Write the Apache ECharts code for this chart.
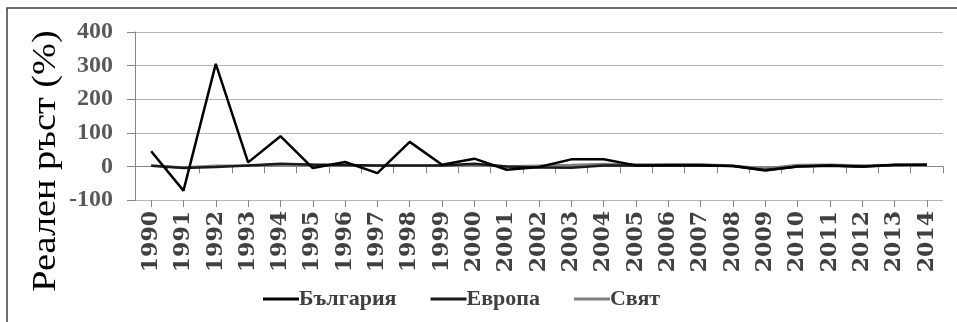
<!DOCTYPE html>
<html><head><meta charset="utf-8">
<script src="https://cdn.jsdelivr.net/npm/echarts@6/dist/echarts.min.js"></script>
<style>html,body{margin:0;padding:0;background:#fff}#c{width:957px;height:322px}</style>
</head><body><div id="c"></div>
<script>
var years = ['1990','1991','1992','1993','1994','1995','1996','1997','1998','1999','2000','2001','2002','2003','2004','2005','2006','2007','2008','2009','2010','2011','2012','2013','2014'];
var bulgaria = [45,-72,305,12,90,-5,13,-20,73,5,23,-10,-2,21,21,3,3,3,1,-12,0,3,0,5,5];
var europe = [2,-5,-2,3,8,5,4,3,3,3,8,0,-3,-4,3,3,4,4,1,-11,0,2,-1,4,5];
var world = [3,-3,2,2,6,6,4,2,2,3,5,0,2,4,7,6,6,6,2,-6,4,5,3,3,4];
var yTicks = [-100,0,100,200,300,400];
var yTitle = 'Реален ръст (%)';
var names = ['България','Европа','Свят'];

var chart = echarts.init(document.getElementById('c'), null, {renderer:'canvas'});
var serif = 'Liberation Serif';
chart.setOption({
  animation:false,
  grid:{left:135,right:14,top:32,bottom:122},
  legend:{
    top:283,left:258,itemWidth:36,itemHeight:3,itemGap:34,icon:'rect',
    textStyle:{fontFamily:serif,fontWeight:'bold',fontSize:22,color:'#404040',padding:[0,0,0,-5]},
    data:names
  },
  xAxis:[{
    type:'category',data:years,boundaryGap:true,
    axisLine:{lineStyle:{color:'#868686',width:1}},
    axisTick:{show:true,length:7,interval:0,lineStyle:{color:'#868686'}},
    axisLabel:{interval:0,rotate:90,margin:11,fontFamily:'DejaVu Serif',fontWeight:'bold',fontSize:22,color:'#404040'}
  },{
    type:'category',data:years,boundaryGap:true,position:'bottom',
    axisLine:{show:false},
    axisTick:{show:true,alignWithLabel:true,length:7,interval:0,lineStyle:{color:'#868686'}},
    axisLabel:{show:false},splitLine:{show:false}
  }],
  yAxis:{
    type:'value',min:yTicks[0],max:yTicks[yTicks.length-1],interval:100,
    axisLine:{show:true,lineStyle:{color:'#868686'}},
    axisTick:{show:true,length:8,lineStyle:{color:'#868686'}},
    splitLine:{lineStyle:{color:'#b5b5b5',width:1}},
    axisLabel:{margin:22,fontFamily:serif,fontWeight:'bold',fontSize:24,color:'#595959'}
  },
  graphic:[
    {type:'rect',shape:{x:7,y:8,width:960,height:330},style:{fill:'none',stroke:'#404040',lineWidth:1.5},silent:true,z:-1},
    {type:'text',x:46,y:161,rotation:Math.PI/2,style:{text:yTitle,font:'33px "Liberation Serif"',fill:'#000',align:'center',verticalAlign:'middle'},scaleX:1.16,scaleY:1.0}
  ],
  series:[
    {name:names[2],type:'line',data:world,symbol:'none',lineStyle:{color:'#7f7f7f',width:2.5},itemStyle:{color:'#7f7f7f'},z:3},
    {name:names[1],type:'line',data:europe,symbol:'none',lineStyle:{color:'#1a1a1a',width:2.5},itemStyle:{color:'#1a1a1a'},z:4},
    {name:names[0],type:'line',data:bulgaria,symbol:'none',lineStyle:{color:'#000',width:2.5},itemStyle:{color:'#000'},z:5}
  ]
});
</script></body></html>
